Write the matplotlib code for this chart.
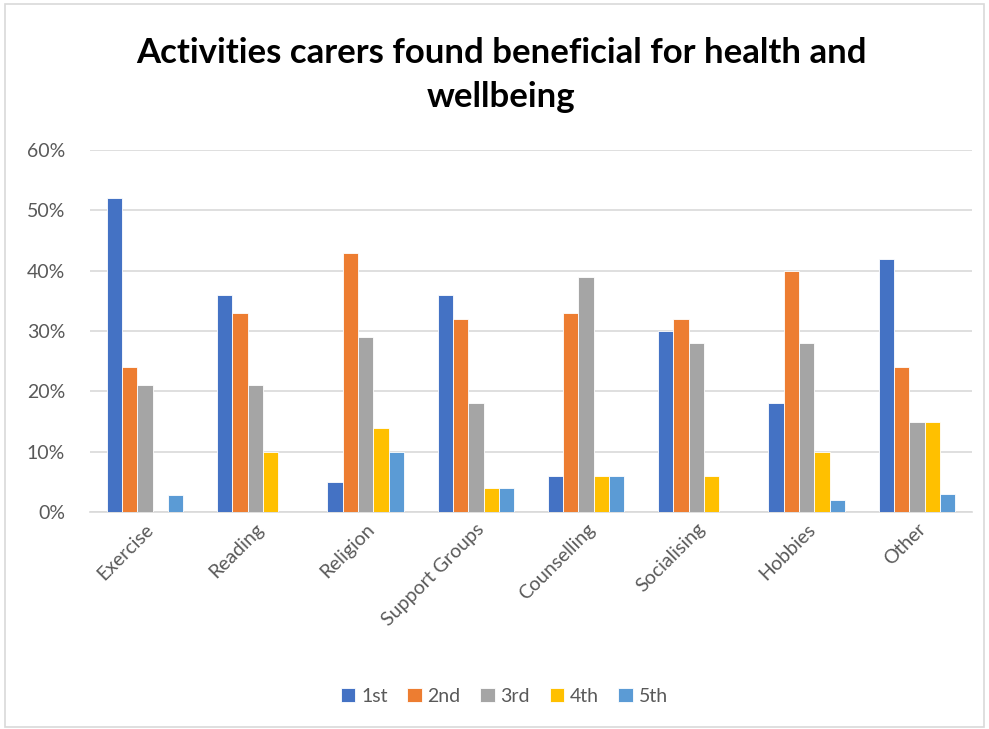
import numpy as np
import matplotlib.pyplot as plt
from matplotlib.patches import Rectangle
from matplotlib.ticker import PercentFormatter

activities = ['Exercise', 'Reading', 'Religion', 'Support Groups', 'Counselling',
              'Socialising', 'Hobbies', 'Other']
ranks = ['1st', '2nd', '3rd', '4th', '5th']

first = [52, 36, 5, 36, 6, 30, 18, 42]
second = [24, 33, 43, 32, 33, 32, 40, 24]
third = [21, 21, 29, 18, 39, 28, 28, 15]
fourth = [0, 10, 14, 4, 6, 6, 10, 15]
fifth = [2.8, 0, 10, 4, 6, 0, 2, 3]

colors = ['#4472c4', '#ed7d31', '#a5a5a5', '#ffc000', '#5b9bd5']

plt.rcParams['font.family'] = ['Lato', 'DejaVu Sans']

fig = plt.figure(figsize=(9.89, 7.29), dpi=100)
ax = fig.add_axes([90 / 989, 217 / 729, 882 / 989, 362 / 729])

x = np.arange(len(activities))
w = 1 / 7.2
for i, (vals, c, lab) in enumerate(zip([first, second, third, fourth, fifth], colors, ranks)):
    ax.bar(x + (i - 2) * w, vals, w, color=c, label=lab, edgecolor='white', linewidth=0.6, zorder=3)

ax.set_xlim(-0.5, len(activities) - 0.5)
ax.set_ylim(0, 60)
ax.set_yticks(range(0, 61, 10))
ax.yaxis.set_major_formatter(PercentFormatter(decimals=0))
ax.grid(axis='y', color='#d9d9d9', linewidth=1.2, zorder=0)
for s in ['top', 'right', 'left']:
    ax.spines[s].set_visible(False)
ax.spines['bottom'].set_color('#d9d9d9')
ax.spines['bottom'].set_linewidth(1.2)
ax.tick_params(length=0, colors='#595959', labelsize=14)
ax.tick_params(axis='y', pad=18)
ax.set_xticks(x)
ax.set_xticklabels(activities, rotation=45, ha='right', rotation_mode='anchor')
ax.tick_params(axis='x', pad=6)

fig.text(0.507, 0.897, 'Activities carers found beneficial for health and\nwellbeing',
         ha='center', va='center', fontsize=25, fontweight='bold', linespacing=1.45)

ax.legend(loc='center', bbox_to_anchor=(0.51, 33 / 729), bbox_transform=fig.transFigure,
          ncol=5, frameon=False, fontsize=14, handlelength=0.75, handleheight=0.75,
          handletextpad=0.3, columnspacing=1.0, labelcolor='#595959')

# chart border
fig.patches.append(Rectangle((5 / 989, 2 / 729), 979 / 989, 723 / 729, transform=fig.transFigure,
                             fill=False, edgecolor='#d9d9d9', linewidth=1.2))

plt.savefig('out.png', dpi=100)
